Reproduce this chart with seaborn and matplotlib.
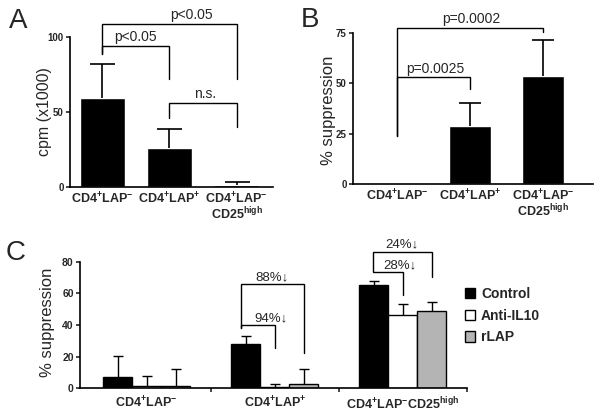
import matplotlib
matplotlib.use("Agg")
import matplotlib.pyplot as plt
from matplotlib.patches import Patch
import seaborn as sns
import pandas as pd
import numpy as np

sns.set_theme(style="ticks")
plt.rcParams['font.family'] = ['Liberation Sans', 'DejaVu Sans']
plt.rcParams['mathtext.fontset'] = 'custom'
plt.rcParams['mathtext.rm'] = 'Liberation Sans'
plt.rcParams['mathtext.bf'] = 'Liberation Sans:bold'
plt.rcParams['mathtext.it'] = 'Liberation Sans:italic'

# ---------------- data ----------------
lab_neg = r"$\mathbf{CD4^{+}LAP^{-}}$"
lab_pos = r"$\mathbf{CD4^{+}LAP^{+}}$"
lab_hi2 = "$\\mathbf{CD4^{+}LAP^{-}}$\n$\\mathbf{CD25^{high}}$"
lab_hi1 = r"$\mathbf{CD4^{+}LAP^{-}CD25^{high}}$"

a_cats = ["neg", "pos", "high"]
a_vals = [59.5, 26, 1.5]
a_err = [22.5, 13, 1.8]

b_cats = ["neg", "pos", "high"]
b_vals = [0.6, 29, 53.5]
b_err = [0, 11, 18]

c_groups = ["neg", "pos", "high"]
c_treat = ["Control", "Anti-IL10", "rLAP"]
c_control = [7, 28, 65.5]
c_anti = [1.5, 1, 46.5]
c_rlap = [1.5, 2.5, 49]
c_control_err = [13.5, 5, 2.5]
c_anti_err = [6.5, 2, 6.5]
c_rlap_err = [10.5, 9.5, 5.5]

fig = plt.figure(figsize=(6, 4.12), dpi=100)

def style_axes(ax):
    for s in ['top', 'right']:
        ax.spines[s].set_visible(False)
    for s in ['left', 'bottom']:
        ax.spines[s].set_linewidth(1.2)
        ax.spines[s].set_color('black')
    ax.tick_params(axis='y', direction='out', length=3, width=1.2, labelsize=7, pad=1.5)
    for t in ax.get_yticklabels():
        t.set_fontweight('bold')
    for t in ax.get_xticklabels():
        t.set_linespacing(0.95)
    ax.set_xlabel("")

def upper_err(ax, xs, vals, errs, capsize, lw):
    eb = ax.errorbar(xs, vals, yerr=[np.zeros(len(vals)), errs], fmt='none', ecolor='black',
                     elinewidth=lw, capsize=capsize, capthick=lw)
    caps = eb[1]
    if len(caps) == 2:
        caps[0].set_visible(False)

def bracket(ax, x1, x2, y, yl, yr, text=None, tx=None, ty=None, fs=9.5):
    ax.plot([x1, x1, x2, x2], [yl, y, y, yr], color='black', lw=1.0, clip_on=False,
            solid_joinstyle='miter')
    if text is not None:
        ax.text(tx, ty, text, ha='center', va='bottom', fontsize=fs, clip_on=False)

# ---------------- panel A ----------------
axA = fig.add_axes([70/600, 1-187/412, 203/600, 150/412])
sns.barplot(x=a_cats, y=a_vals, ax=axA, color='black', saturation=1, width=0.67, errorbar=None)
upper_err(axA, range(3), a_vals, a_err, 9, 1.2)
axA.set_ylim(0, 100)
axA.set_xlim(-0.48, 2.54)
axA.set_yticks([0, 50, 100])
axA.set_xticks(range(3))
axA.set_xticklabels([lab_neg, lab_pos, lab_hi2], fontsize=9)
axA.tick_params(axis='x', length=0, pad=3)
style_axes(axA)
axA.set_ylabel("cpm (x1000)", fontsize=11.5)
axA.yaxis.set_label_coords(-0.09, 0.5)
bracket(axA, 0, 2, 109, 89, 72, "p<0.05", 1.32, 110, fs=10)
bracket(axA, 0, 1, 94, 89, 72, "p<0.05", 0.49, 95, fs=10)
bracket(axA, 1, 2, 56, 46, 40, "n.s.", 1.53, 57, fs=10)

# ---------------- panel B ----------------
axB = fig.add_axes([353/600, 1-184/412, 240/600, 151/412])
sns.barplot(x=b_cats, y=b_vals, ax=axB, color='black', saturation=1, width=0.58, errorbar=None)
upper_err(axB, [1, 2], b_vals[1:], b_err[1:], 8, 1.2)
axB.set_ylim(0, 75)
axB.set_xlim(-0.6, 2.68)
axB.set_yticks([0, 25, 50, 75])
axB.set_xticks(range(3))
axB.set_xticklabels([lab_neg, lab_pos, lab_hi2], fontsize=9)
axB.tick_params(axis='x', length=0, pad=3)
style_axes(axB)
axB.set_ylabel("% suppression", fontsize=12)
axB.yaxis.set_label_coords(-0.07, 0.49)
bracket(axB, 0, 2, 77.6, 24, 75.6, "p=0.0002", 1.01, 78.3, fs=10)
bracket(axB, 0, 1, 53, 24, 47, "p=0.0025", 0.53, 53.7, fs=10)

# ---------------- panel C ----------------
axC = fig.add_axes([80/600, 1-388.3/412, 387/600, 126.6/412])
dfC = pd.DataFrame({
    "group": np.repeat(c_groups, 3),
    "treatment": c_treat * 3,
    "value": [v for trip in zip(c_control, c_anti, c_rlap) for v in trip],
})
palette = {"Control": "black", "Anti-IL10": "white", "rLAP": "#b4b4b4"}
sns.barplot(data=dfC, x="group", y="value", hue="treatment", order=c_groups,
            hue_order=c_treat, palette=palette, saturation=1, width=0.68,
            edgecolor='black', linewidth=1.0, errorbar=None, ax=axC, legend=False)
w = 0.68 / 3
for j, (vals, errs) in enumerate([(c_control, c_control_err), (c_anti, c_anti_err), (c_rlap, c_rlap_err)]):
    xs = np.arange(3) + (j - 1) * w
    upper_err(axC, xs, vals, errs, 3.5, 1.0)
axC.set_ylim(0, 80)
axC.set_xlim(-0.52, 2.5)
axC.set_yticks([0, 20, 40, 60, 80])
axC.set_xticks(range(3))
axC.set_xticklabels([lab_neg, lab_pos, lab_hi1], fontsize=9)
axC.set_xticks([0.5, 1.5, 2.5], minor=True)
axC.tick_params(axis='x', which='major', length=0, pad=5)
axC.tick_params(axis='x', which='minor', length=3, width=1.2, direction='out')
style_axes(axC)
axC.tick_params(axis='y', labelsize=7.5)
axC.set_ylabel("% suppression", fontsize=12)
axC.yaxis.set_label_coords(-0.065, 0.52)
# group 2 brackets
bracket(axC, 1 - w - 0.04, 1 + w, 65.8, 38, 22.3, "88%\u2193", 1 - 0.02, 66.3, fs=9.5)
bracket(axC, 1 - w - 0.04, 1, 40, 38, 25.5, "94%\u2193", 1 - 0.03, 40.5, fs=9.5)
# group 3 brackets
bracket(axC, 2 - w - 0.01, 2 + w, 86.4, 74, 70.6, "24%\u2193", 2 - 0.01, 86.9, fs=9.5)
bracket(axC, 2 - w - 0.01, 2, 73.4, 74, 59, "28%\u2193", 2 - 0.02, 73.9, fs=9.5)

handles = [Patch(facecolor=palette[t], edgecolor='black', linewidth=1.0, label=t) for t in c_treat]
leg = fig.legend(handles=handles, loc='upper left', bbox_to_anchor=(465/600, 1-287/412),
                 frameon=False, handlelength=0.75, handleheight=0.75, handletextpad=0.4,
                 labelspacing=0.55, borderaxespad=0, borderpad=0,
                 prop={'weight': 'bold', 'size': 10})

# panel letters
fig.text(9/600, 1-28/412, "A", fontsize=20)
fig.text(301/600, 1-27/412, "B", fontsize=20)
fig.text(6/600, 1-260/412, "C", fontsize=20)

fig.savefig("out.png", dpi=100)
